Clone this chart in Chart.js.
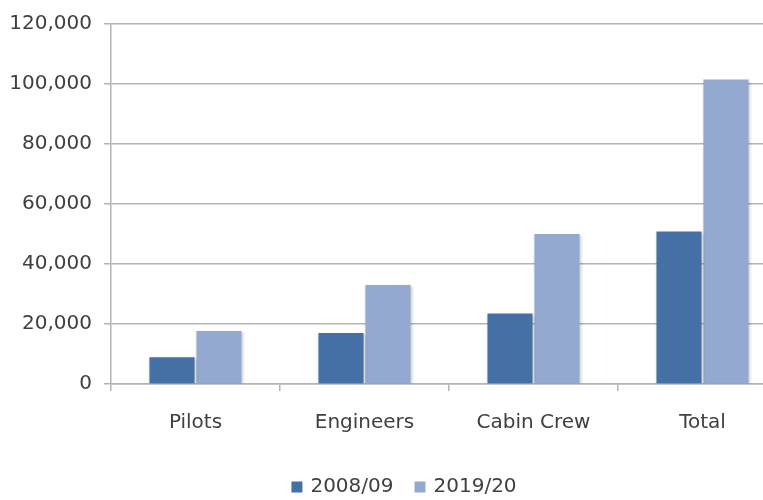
<!DOCTYPE html>
<html>
<head>
<meta charset="utf-8">
<script src="https://cdn.jsdelivr.net/npm/chart.js@4/dist/chart.umd.min.js"></script>
<style>
  html, body { margin: 0; padding: 0; background: #fff; overflow: hidden; }
  #wrap { width: 787px; height: 500px; }
</style>
</head>
<body>
<div id="wrap"><canvas id="c" width="787" height="500"></canvas></div>
<script>
// Workforce by occupation, two reference years
const categories = ['Pilots', 'Engineers', 'Cabin Crew', 'Total'];
const series2008 = [8900, 17000, 23500, 50800];
const series2019 = [17700, 33000, 50000, 101500];
const yTicks = [0, 20000, 40000, 60000, 80000, 100000, 120000];

const FONT = 'DejaVu Sans';
const GRID = '#b4b4b4';
const TEXT = '#404040';

// soft drop shadow under each bar
const barShadow = {
  id: 'barShadow',
  beforeDatasetsDraw(chart) {
    const ctx = chart.ctx;
    ctx.save();
    ctx.shadowColor = 'rgba(0,0,0,0.22)';
    ctx.shadowBlur = 3;
    ctx.shadowOffsetX = 1;
    ctx.shadowOffsetY = 1;
  },
  afterDatasetsDraw(chart) {
    chart.ctx.restore();
  }
};

// one-row legend centred under the plot, built from the dataset labels and colours
const bottomLegend = {
  id: 'bottomLegend',
  afterDraw(chart, args, opts) {
    const ctx = chart.ctx;
    const box = 11, gapText = 8, gapItem = 21;
    ctx.save();
    ctx.font = `20px "${FONT}"`;
    ctx.textBaseline = 'middle';
    ctx.textAlign = 'left';
    const items = chart.data.datasets.map(ds => ({
      text: ds.label, color: ds.backgroundColor, w: ctx.measureText(ds.label).width
    }));
    const total = items.reduce((s, it) => s + box + gapText + it.w, 0) + gapItem * (items.length - 1);
    let x = opts.centerX - total / 2;
    const y = opts.y;
    items.forEach(it => {
      ctx.fillStyle = it.color;
      ctx.fillRect(x, y - box / 2, box, box);
      x += box + gapText;
      ctx.fillStyle = TEXT;
      ctx.fillText(it.text, x, y);
      x += it.w + gapItem;
    });
    ctx.restore();
  }
};

new Chart(document.getElementById('c'), {
  type: 'bar',
  data: {
    labels: categories,
    datasets: [
      { label: '2008/09', data: series2008, backgroundColor: '#4470a5',
        barPercentage: 0.96, categoryPercentage: 0.556 },
      { label: '2019/20', data: series2019, backgroundColor: '#93a9d0',
        barPercentage: 0.96, categoryPercentage: 0.556 }
    ]
  },
  options: {
    responsive: false,
    animation: false,
    layout: { padding: { top: 14, right: 0, left: 0, bottom: 0 } },
    plugins: {
      tooltip: { enabled: false },
      legend: { display: false },
      bottomLegend: { centerX: 404, y: 487 }
    },
    scales: {
      x: {
        offset: true,
        grid: { display: true, offset: true, drawOnChartArea: false, color: GRID, lineWidth: 1.5, tickLength: 7 },
        border: { color: GRID, width: 1.5 },
        ticks: { font: { family: FONT, size: 20 }, color: TEXT, padding: 20, maxRotation: 0 },
        afterFit(s) { s.height = 116; }
      },
      y: {
        min: 0,
        max: 120000,
        afterBuildTicks(s) { s.ticks = yTicks.map(v => ({ value: v })); },
        grid: { color: GRID, lineWidth: 1.5, tickLength: 7 },
        border: { color: GRID, width: 1.5 },
        ticks: {
          font: { family: FONT, size: 20 },
          color: TEXT,
          padding: 12,
          callback: v => v.toLocaleString('en-US')
        },
        afterFit(s) { s.width = 111; }
      }
    }
  },
  plugins: [barShadow, bottomLegend]
});
</script>
</body>
</html>
